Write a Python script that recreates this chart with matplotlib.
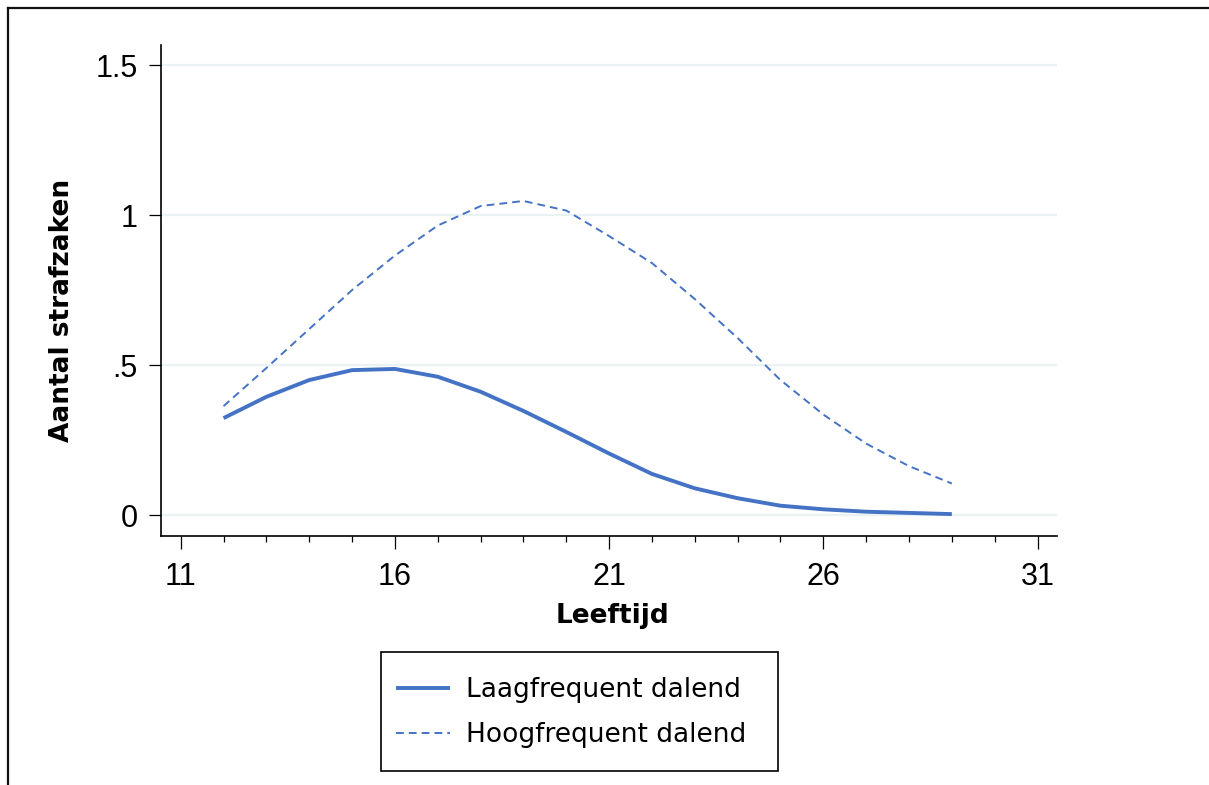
import numpy as np
import matplotlib.pyplot as plt
from matplotlib.lines import Line2D
from matplotlib.patches import Rectangle

# leeftijd en verwacht aantal strafzaken per groep
leeftijd = [12, 13, 14, 15, 16, 17, 18, 19, 20, 21, 22, 23, 24, 25, 26, 27, 28, 29]
laagfrequent = [0.323, 0.394, 0.45, 0.483, 0.487, 0.461, 0.411, 0.347, 0.277,
                0.205, 0.137, 0.089, 0.056, 0.031, 0.019, 0.011, 0.007, 0.003]
hoogfrequent = [0.363, 0.49, 0.62, 0.75, 0.865, 0.965, 1.03, 1.047, 1.015,
                0.93, 0.84, 0.72, 0.59, 0.45, 0.335, 0.238, 0.163, 0.105]

x_ticks = [11, 16, 21, 26, 31]
y_ticks = [0, 0.5, 1, 1.5]
y_labels = ["0", ".5", "1", "1.5"]

blauw = "#4472C4"
W, H = 1209, 785

fig = plt.figure(figsize=(12.09, 7.85), dpi=100)
ax = fig.add_axes([161 / W, 1 - 536 / H, (1057 - 161) / W, (536 - 45) / H])

ax.plot(leeftijd, laagfrequent, color=blauw, lw=2.8, label="Laagfrequent dalend",
        solid_capstyle="butt")
ax.plot(leeftijd, hoogfrequent, color=blauw, lw=1.4, dashes=(4, 2.6),
        label="Hoogfrequent dalend")

ax.set_xlim(10.54, 31.455)
ax.set_ylim(-0.07, 1.567)

for y in y_ticks:
    ax.axhline(y, color="#eaf2f3", lw=1.6, zorder=0)

ax.set_xticks(x_ticks)
ax.set_xticks(range(12, 31), minor=True)
ax.set_yticks(y_ticks)
ax.set_yticklabels(y_labels)

for s in ["top", "right"]:
    ax.spines[s].set_visible(False)
for s in ["left", "bottom"]:
    ax.spines[s].set_linewidth(1.2)

ax.tick_params(axis="both", which="major", length=9, width=0.9, direction="out", pad=8)
ax.tick_params(axis="x", which="minor", length=4.5, width=0.9, direction="out")
ax.tick_params(axis="x", which="major", pad=10)
for lab in ax.get_xticklabels() + ax.get_yticklabels():
    lab.set_fontfamily("Liberation Sans")
    lab.set_fontsize(22)

ax.set_xlabel("Leeftijd", fontsize=19, fontweight="bold", family="DejaVu Sans")
ax.set_ylabel("Aantal strafzaken", fontsize=19, fontweight="bold", family="DejaVu Sans")
ax.xaxis.set_label_coords((612 - 161) / (1057 - 161), -(616 - 536) / (536 - 45))
ax.yaxis.set_label_coords(-(161 - 62) / (1057 - 161), (536 - 310) / (536 - 45))
ax.xaxis.label.set_va("center")
ax.yaxis.label.set_va("center")

# legenda zonder eigen kader, kader apart getekend
ax.legend(loc="center", mode="expand",
          bbox_to_anchor=(381 / W, 1 - 771 / H, 397 / W, 117 / H),
          bbox_transform=fig.transFigure, borderaxespad=0, frameon=False,
          handlelength=2.05, handletextpad=0.6, labelspacing=0.73,
          borderpad=0.57, prop={"family": "DejaVu Sans", "size": 19})
fig.add_artist(Rectangle((381 / W, 1 - 771 / H), 397 / W, 119 / H, fill=False,
                         edgecolor="black", lw=1.2, transform=fig.transFigure))

# rand van de grafiek (links en boven)
fig.add_artist(Line2D([8 / W, 8 / W], [0, 1 - 8 / H], color="#111111", lw=1.6,
                      transform=fig.transFigure))
fig.add_artist(Line2D([8 / W, 1], [1 - 8 / H, 1 - 8 / H], color="#111111", lw=1.6,
                      transform=fig.transFigure))

fig.savefig("out.png", dpi=100)
